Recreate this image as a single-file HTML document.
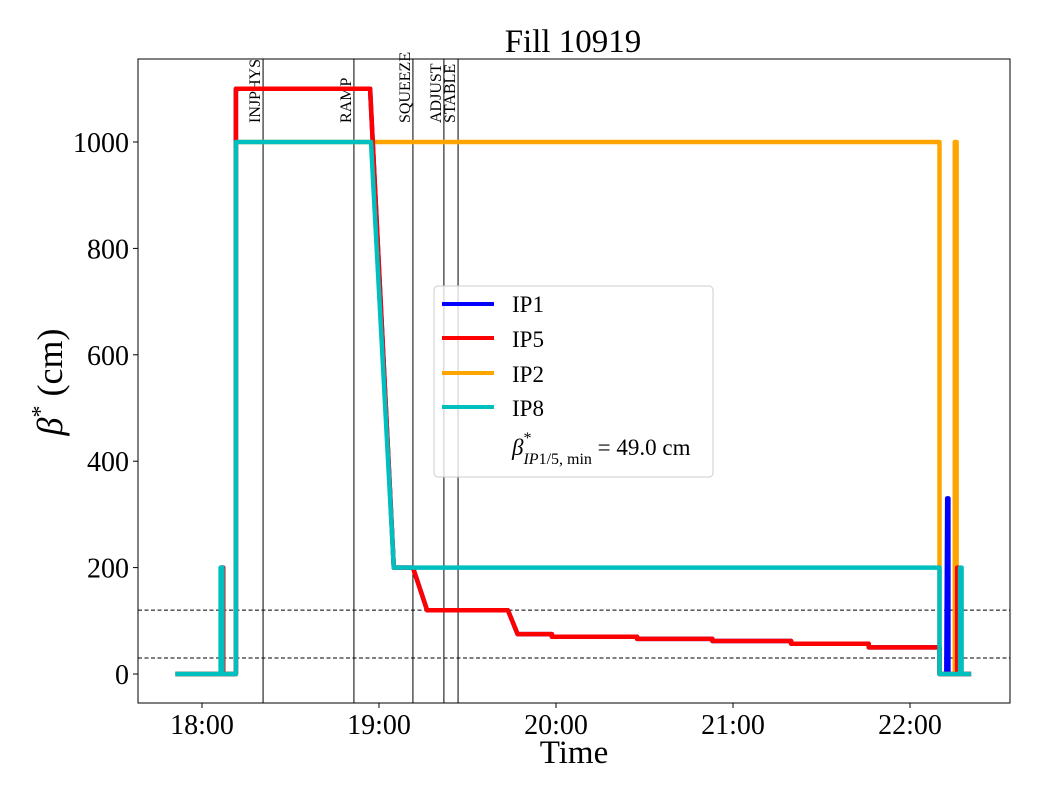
<!DOCTYPE html>
<html><head><meta charset="utf-8"><style>
body{margin:0;background:#fff;}
svg{display:block;font-family:"Liberation Serif",serif;}
</style></head><body>
<svg id="chart" width="1040" height="800"></svg>
<script>
// time in minutes after 18:00, beta* values in cm
const ip5T = [-9, 6.5, 6.5, 7.2, 7.2, 11.5, 11.5, 57, 65, 71.5, 76.3, 103.7, 107, 118.6, 118.6, 147.5, 147.5, 173, 173, 199.7, 199.7, 226, 226, 250, 250, 256, 256, 256.6, 256.6, 260.7];
const ip5V = [0, 0, 200, 200, 0, 0, 1100, 1100, 200, 200, 120, 120, 75, 75, 70, 70, 66, 66, 62, 62, 57, 57, 50, 50, 0, 0, 200, 200, 0, 0];
const ip1T = [-9, 6.5, 6.5, 7.2, 7.2, 11.5, 11.5, 57, 65, 71.5, 76.3, 103.7, 107, 118.6, 118.6, 147.5, 147.5, 173, 173, 199.7, 199.7, 226, 226, 250, 250, 252.3, 252.6, 253, 253, 260.7];
const ip1V = [0, 0, 200, 200, 0, 0, 1100, 1100, 200, 200, 120, 120, 75, 75, 70, 70, 66, 66, 62, 62, 57, 57, 50, 50, 0, 0, 330, 330, 0, 0];
const ip2T = [-9, 11.5, 11.5, 250, 250, 255.2, 255.2, 255.8, 255.8, 260.7];
const ip2V = [0, 0, 1000, 1000, 0, 0, 1000, 1000, 0, 0];
const ip8T = [-9, 6.3, 6.3, 6.9, 6.9, 11.5, 11.5, 57.3, 65, 250, 250, 257, 257, 257.5, 257.5, 260.7];
const ip8V = [0, 0, 200, 200, 0, 0, 1000, 1000, 200, 200, 0, 0, 200, 200, 0, 0];
const phaseNames = ["INJPHYS", "RAMP", "SQUEEZE", "ADJUST", "STABLE"];
const phaseT = [20.7, 51.5, 71.5, 82, 86.8];
const refLines = [120, 30];
const yTicks = [0, 200, 400, 600, 800, 1000];
const xTicks = [0, 60, 120, 180, 240];
const xTickLabels = ["18:00", "19:00", "20:00", "21:00", "22:00"];

const L=138,R=1010,T=59,B=703;
const xs = t => 202 + t*177/60;
const ys = v => 674 - v*0.532;
const NS="http://www.w3.org/2000/svg";
const svg=document.getElementById('chart');
function mk(tag,attrs,parent){const e=document.createElementNS(NS,tag);for(const k in attrs)e.setAttribute(k,attrs[k]);(parent||svg).appendChild(e);return e;}

refLines.forEach(v=>{
  const l=mk('line',{x1:L,x2:R,y1:ys(v),y2:ys(v),stroke:'#000','stroke-width':1,'stroke-dasharray':'4,2.5'});
  
  
});
phaseT.forEach((t,i)=>{
  const x=xs(t);
  const l=mk('line',{x1:x,x2:x,y1:T,y2:B,stroke:'#000','stroke-width':1});
  
  
  const tx=mk('text',{x:0,y:0,transform:`translate(${x-3},123) rotate(-90)`,'font-size':16});
  tx.textContent=phaseNames[i];
  
  
});
function series(T_,V_,color,name){
  const d=T_.map((t,i)=>(i?'L':'M')+xs(t).toFixed(1)+','+ys(V_[i]).toFixed(1)).join(' ');
  const p=mk('path',{d:d,fill:'none',stroke:color,'stroke-width':4.5,'stroke-linejoin':'round'});
  
  
}
series(ip1T,ip1V,'#0000ff','series-ip1');
series(ip2T,ip2V,'#ffa500','series-ip2');
series(ip5T,ip5V,'#ff0000','series-ip5');
series(ip8T,ip8V,'#00bfbf','series-ip8');

const fr=mk('rect',{x:L,y:T,width:R-L,height:B-T,fill:'none',stroke:'#000','stroke-width':1});


yTicks.forEach(v=>{
  mk('line',{x1:L-5,x2:L,y1:ys(v),y2:ys(v),stroke:'#000'});
  const t=mk('text',{x:L-9,y:ys(v)+10,'text-anchor':'end','font-size':28});
  t.textContent=v;
  
  
});
xTicks.forEach((v,i)=>{
  mk('line',{x1:xs(v),x2:xs(v),y1:B,y2:B+5,stroke:'#000'});
  const t=mk('text',{x:xs(v),y:B+31,'text-anchor':'middle','font-size':28});
  t.textContent=xTickLabels[i];
  
  
});
</script>
<svg style="position:absolute;left:0;top:0" width="1040" height="800">
  <text x="573" y="52" text-anchor="middle" font-size="33" font-family="Liberation Serif,serif">Fill 10919</text>
  <text x="574" y="763" text-anchor="middle" font-size="33" font-family="Liberation Serif,serif">Time</text>
  <text transform="translate(62,382) rotate(-90)" text-anchor="middle" font-size="36" font-family="Liberation Serif,serif"><tspan font-style="italic">β</tspan><tspan dy="-14" font-size="24">*</tspan><tspan dy="14"> (cm)</tspan></text>
  <g font-family="Liberation Serif,serif" font-size="23">
    <rect x="434" y="286" width="279" height="191" rx="4" fill="#fff" fill-opacity="0.8" stroke="#ccc"/>
    <line x1="442" x2="494" y1="304" y2="304" stroke="#0000ff" stroke-width="4"/>
    <text x="512" y="312">IP1</text>
    <line x1="442" x2="494" y1="338" y2="338" stroke="#ff0000" stroke-width="4"/>
    <text x="512" y="347">IP5</text>
    <line x1="442" x2="494" y1="373" y2="373" stroke="#ffa500" stroke-width="4"/>
    <text x="512" y="382">IP2</text>
    <line x1="442" x2="494" y1="407" y2="407" stroke="#00bfbf" stroke-width="4"/>
    <text x="512" y="416">IP8</text>
    <text x="512" y="455"><tspan font-style="italic">β</tspan><tspan dy="-12" font-size="16">*</tspan><tspan dx="-8" dy="21" font-size="16" font-style="italic">IP</tspan><tspan font-size="16">1/5, min</tspan><tspan dy="-9"> = 49.0 cm</tspan></text>
  </g>
</svg>
</body></html>
